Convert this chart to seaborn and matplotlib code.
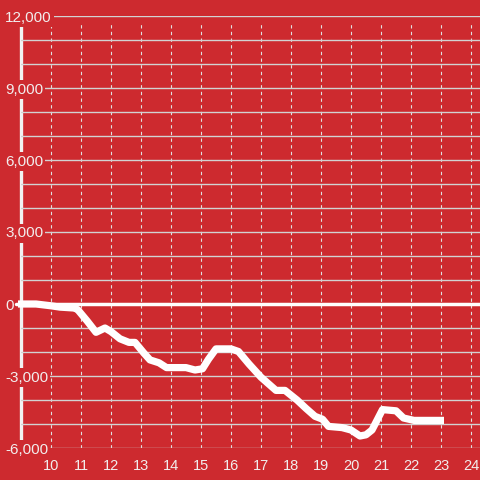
import pandas as pd
import seaborn as sns
import matplotlib.pyplot as plt

# hour of day vs running total
hours = [8.9, 9.5, 10.0, 10.3, 10.8, 10.9, 11.2, 11.5, 11.8, 12.0, 12.3, 12.6, 12.8,
         13.1, 13.3, 13.6, 13.85, 14.5, 14.8, 15.05, 15.25, 15.5, 16.0, 16.25, 16.6,
         17.0, 17.5, 17.8, 18.2, 18.5, 18.8, 19.05, 19.25, 19.7, 20.0, 20.3, 20.5,
         20.7, 21.05, 21.5, 21.75, 22.1, 23.1]
values = [0, 0, -75, -130, -170, -250, -700, -1180, -1000, -1150, -1450, -1600, -1600,
          -2050, -2330, -2450, -2650, -2650, -2750, -2700, -2300, -1870, -1870, -1980, -2500,
          -3050, -3600, -3600, -4000, -4350, -4680, -4800, -5100, -5150, -5250, -5500, -5450,
          -5250, -4400, -4450, -4750, -4850, -4850]
x_ticks = list(range(10, 25))
y_ticks = [-6000, -3000, 0, 3000, 6000, 9000, 12000]
y_minor = list(range(-6000, 12001, 1000))

df = pd.DataFrame({"hour": hours, "value": values})

red = "#cd2a2f"
grid_c = "#d2d2d2"
txt_c = "#f2eded"

sns.set_theme(style="white")
plt.rcParams["font.family"] = ["Liberation Sans", "DejaVu Sans"]

fig = plt.figure(figsize=(4.8, 4.8), dpi=100, facecolor=red)
ax = fig.add_axes([21 / 480, 32 / 480, 459 / 480, 432 / 480])
ax.set_facecolor(red)
ax.set_axisbelow(True)  # axis artists at zorder 0.5

ax.set_xlim(9.0, 24.3)
ax.set_ylim(-6000, 12000)

# horizontal grid every 1000
ax.set_yticks(y_minor, minor=True)
ax.set_yticks(y_ticks)
ax.set_yticklabels([f"{v:,}" for v in y_ticks])
ax.grid(axis="y", which="both", color=grid_c, linewidth=1.0)
ax.set_xticks(x_ticks)

# dashed verticals, stopping a little under the top
for t in x_ticks:
    ax.axvline(t, ymin=0, ymax=0.982, color="#e0e0e0", linewidth=0.8,
               linestyle=(0, (3, 3)), zorder=0.45)

for s in ["top", "right", "bottom"]:
    ax.spines[s].set_visible(False)
ax.spines["left"].set_color("#f2f2f2")
ax.spines["left"].set_linewidth(2.4)
ax.spines["left"].set_zorder(0.4)

ax.tick_params(axis="both", which="both", length=0, labelcolor=txt_c)
ax.tick_params(axis="y", pad=11.5, labelsize=11)
ax.tick_params(axis="x", pad=8, labelsize=10.5)
for lab in ax.get_yticklabels():
    lab.set_horizontalalignment("left")
    lab.set_bbox(dict(facecolor=red, edgecolor="none", pad=1.5))

# zero line
ax.axhline(0, xmin=-0.01, xmax=1, color="white", linewidth=2.5, zorder=1.6, clip_on=False)

sns.lineplot(data=df, x="hour", y="value", color="white", linewidth=5.2,
             sort=False, ax=ax, zorder=3)
for ln in ax.lines[-1:]:
    ln.set_clip_on(False)
    ln.set_solid_joinstyle("round")
    ln.set_solid_capstyle("butt")

ax.set_xlabel("")
ax.set_ylabel("")

fig.savefig("out.png", dpi=100, facecolor=red)
